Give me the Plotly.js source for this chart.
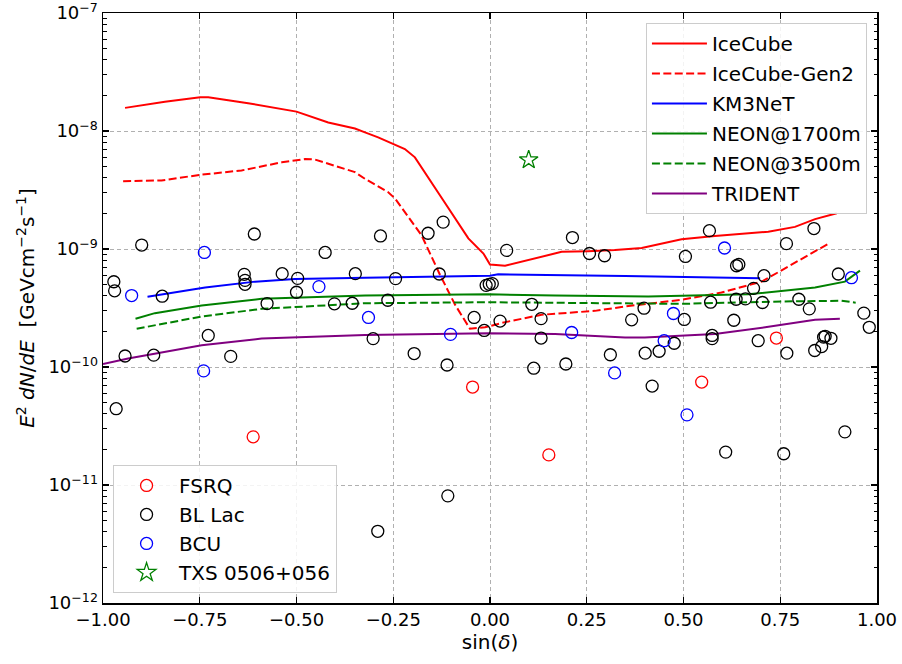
<!DOCTYPE html>
<html>
<head>
<meta charset="utf-8">
<script src="https://cdn.plot.ly/plotly-3.0.1.min.js"></script>
<style>html,body{margin:0;padding:0;background:#fff;}#plot{width:902px;height:664px;}</style>
</head>
<body>
<div id="plot"></div>
<script>
// ---- Sensitivity curves ----
const icecubeX = [-0.943,-0.840,-0.749,-0.728,-0.625,-0.500,-0.418,-0.349,-0.323,-0.289,-0.220,-0.194,-0.129,-0.112,-0.056,-0.017,0.000,0.039,0.185,0.254,0.323,0.392,0.495,0.581,0.719,0.788,0.840,0.896];
const icecubeY = [1.57e-8,1.77e-8,1.93e-8,1.93e-8,1.72e-8,1.46e-8,1.18e-8,1.05e-8,9.73e-9,8.83e-9,7.04e-9,5.98e-9,2.84e-9,2.34e-9,1.23e-9,9.16e-10,7.40e-10,7.21e-10,9.46e-10,9.58e-10,9.80e-10,1.02e-9,1.21e-9,1.29e-9,1.40e-9,1.54e-9,1.79e-9,2.01e-9];

const gen2X = [-0.948,-0.849,-0.749,-0.642,-0.538,-0.478,-0.452,-0.349,-0.323,-0.263,-0.245,-0.177,-0.129,-0.099,-0.090,-0.052,-0.013,0.039,0.133,0.271,0.349,0.495,0.598,0.702,0.771,0.879];
const gen2Y = [3.76e-9,3.81e-9,4.25e-9,4.63e-9,5.43e-9,5.79e-9,5.73e-9,4.48e-9,3.93e-9,3.03e-9,2.67e-9,1.31e-9,6.02e-10,3.83e-10,3.36e-10,2.11e-10,2.17e-10,2.40e-10,2.77e-10,2.99e-10,3.26e-10,3.71e-10,4.28e-10,5.29e-10,7.08e-10,1.13e-9];

const km3X = [-0.885,-0.736,-0.607,-0.504,-0.323,0.000,0.021,0.168,0.349,0.698];
const km3Y = [3.93e-10,4.71e-10,5.29e-10,5.57e-10,5.71e-10,5.94e-10,6.10e-10,6.02e-10,5.90e-10,5.64e-10];

const neon1700X = [-0.916,-0.866,-0.745,-0.590,-0.323,-0.004,0.168,0.349,0.409,0.667,0.840,0.917,0.956];
const neon1700Y = [2.56e-10,2.86e-10,3.32e-10,3.78e-10,4.03e-10,4.13e-10,4.03e-10,3.95e-10,3.95e-10,4.13e-10,4.71e-10,5.29e-10,6.55e-10];

const neon3500X = [-0.913,-0.745,-0.590,-0.323,-0.004,0.349,0.495,0.753,0.908,0.945];
const neon3500Y = [2.11e-10,2.68e-10,3.11e-10,3.47e-10,3.54e-10,3.43e-10,3.43e-10,3.59e-10,3.64e-10,3.51e-10];

const tridentX = [-1.0,-0.935,-0.745,-0.590,-0.323,-0.004,0.168,0.349,0.400,0.581,0.711,0.840,0.904];
const tridentY = [1.06e-10,1.18e-10,1.53e-10,1.74e-10,1.87e-10,1.93e-10,1.90e-10,1.78e-10,1.78e-10,1.90e-10,2.17e-10,2.51e-10,2.56e-10];

// ---- Sources ----
const fsrqX = [-0.612,-0.045,0.152,0.547,0.740];
const fsrqY = [2.56e-11,6.76e-11,1.80e-11,7.45e-11,1.76e-10];

const bcuX = [-0.926,-0.738,-0.740,-0.442,-0.314,-0.102,0.211,0.322,0.450,0.474,0.509,0.606,0.934];
const bcuY = [4.03e-10,9.35e-10,9.27e-11,4.80e-10,2.63e-10,1.89e-10,1.96e-10,8.91e-11,1.67e-10,2.84e-10,3.93e-11,1.02e-9,5.71e-10];

const bllacX = [-0.972,-0.970,-0.966,-0.943,-0.900,-0.869,-0.847,-0.728,-0.670,-0.635,-0.633,-0.633,-0.609,-0.576,-0.537,-0.497,-0.500,-0.426,-0.402,-0.356,-0.348,-0.302,-0.290,-0.283,-0.264,-0.244,-0.196,-0.160,-0.131,-0.121,-0.111,-0.109,-0.041,-0.015,-0.010,-0.002,0.006,0.026,0.043,0.108,0.113,0.132,0.132,0.196,0.213,0.257,0.296,0.311,0.366,0.398,0.401,0.419,0.437,0.476,0.502,0.505,0.567,0.570,0.574,0.574,0.609,0.630,0.636,0.637,0.643,0.660,0.681,0.693,0.704,0.708,0.759,0.766,0.767,0.798,0.825,0.837,0.839,0.857,0.862,0.866,0.881,0.900,0.917,0.966,0.980];
const bllacY = [5.28e-10,4.42e-10,4.43e-11,1.24e-10,1.08e-9,1.26e-10,3.98e-10,1.85e-10,1.23e-10,6.10e-10,5.42e-10,5.02e-10,1.34e-9,3.45e-10,6.18e-10,5.64e-10,4.30e-10,9.35e-10,3.43e-10,3.47e-10,6.18e-10,1.74e-10,4.05e-12,1.29e-9,3.68e-10,5.61e-10,1.30e-10,1.36e-9,6.14e-10,1.69e-9,1.04e-10,8.09e-12,2.63e-10,2.04e-10,4.92e-10,5.02e-10,5.09e-10,2.45e-10,9.73e-10,3.40e-10,9.77e-11,2.57e-10,1.76e-10,1.06e-10,1.25e-9,9.16e-10,8.77e-10,1.27e-10,2.51e-10,3.15e-10,1.31e-10,6.89e-11,1.36e-10,1.59e-10,2.53e-10,8.65e-10,1.43e-9,3.54e-10,1.85e-10,1.74e-10,1.90e-11,2.49e-10,3.75e-10,7.21e-10,7.40e-10,3.78e-10,4.64e-10,1.67e-10,3.52e-10,5.94e-10,1.84e-11,1.11e-9,1.31e-10,3.75e-10,3.11e-10,1.49e-9,1.38e-10,1.49e-10,1.79e-10,1.82e-10,1.75e-10,6.14e-10,2.82e-11,2.86e-10,2.17e-10];

const txsX = [0.100];
const txsY = [5.69e-9];

const xTickVals = [-1.0,-0.75,-0.5,-0.25,0,0.25,0.5,0.75,1.0];
const xTickText = ['−1.00','−0.75','−0.50','−0.25','0.00','0.25','0.50','0.75','1.00'];
const yTickVals = [1e-12,1e-11,1e-10,1e-9,1e-8,1e-7];
const yTickText = ['10<sup>−12</sup>','10<sup>−11</sup>','10<sup>−10</sup>','10<sup>−9</sup>','10<sup>−8</sup>','10<sup>−7</sup>'];

const FONT = 'DejaVu Sans, sans-serif';
const DASH = '8px,3.4px';

function lineTrace(x, y, name, color, dash, grp) {
  return {x: x, y: y, name: name, type: 'scatter', mode: 'lines',
    line: {color: color, width: 2, dash: dash || 'solid'},
    legend: 'legend', legendgroup: grp};
}
function markTrace(x, y, name, color, symbol, size, grp) {
  return {x: x, y: y, name: name, type: 'scatter', mode: 'markers',
    marker: {symbol: symbol, size: size, color: color, line: {color: color, width: 1.3}},
    legend: 'legend2', legendgroup: grp};
}

const traces = [
  lineTrace(icecubeX, icecubeY, 'IceCube', '#ff0000', 'solid', 'a'),
  lineTrace(gen2X, gen2Y, 'IceCube-Gen2', '#ff0000', DASH, 'b'),
  lineTrace(km3X, km3Y, 'KM3NeT', '#0000ff', 'solid', 'c'),
  lineTrace(neon1700X, neon1700Y, 'NEON@1700m', '#008000', 'solid', 'd'),
  lineTrace(neon3500X, neon3500Y, 'NEON@3500m', '#008000', DASH, 'e'),
  lineTrace(tridentX, tridentY, 'TRIDENT', '#800080', 'solid', 'f'),
  markTrace(fsrqX, fsrqY, 'FSRQ', '#ff0000', 'circle-open', 12, 'g'),
  markTrace(bllacX, bllacY, 'BL Lac', '#000000', 'circle-open', 12, 'h'),
  markTrace(bcuX, bcuY, 'BCU', '#0000ff', 'circle-open', 12, 'i'),
  markTrace(txsX, txsY, 'TXS 0506+056', '#008000', 'star-open', 14, 'j')
];

const axisCommon = {
  showline: true, linecolor: '#000', linewidth: 1.5, mirror: 'allticks',
  ticks: 'inside', ticklen: 6, tickwidth: 1.2, tickcolor: '#000',
  showgrid: true, gridcolor: '#b0b0b0', gridwidth: 1, griddash: '4px,3px',
  zeroline: false, ticklabeloverflow: 'allow',
  tickfont: {family: FONT, size: 18, color: '#000'}
};

const layout = {
  width: 902, height: 664,
  margin: {l: 103, r: 25, t: 13, b: 61},
  paper_bgcolor: '#fff', plot_bgcolor: '#fff',
  font: {family: FONT, color: '#000'},
  showlegend: true,
  xaxis: Object.assign({}, axisCommon, {
    range: [-1, 1], tickmode: 'array', tickvals: xTickVals, ticktext: xTickText,
    title: {text: 'sin(<i>δ</i>)', font: {family: FONT, size: 20, color: '#000'}, standoff: 4}
  }),
  yaxis: Object.assign({}, axisCommon, {
    type: 'log', range: [-12, -7], tickmode: 'array', tickvals: yTickVals, ticktext: yTickText,
    minor: {dtick: 'D1', ticks: 'inside', ticklen: 3.5, tickwidth: 1, tickcolor: '#000', showgrid: false},
    title: {text: '<i>E</i><sup>2</sup> <i>dN</i>/<i>dE</i>  [GeVcm<sup>−2</sup>s<sup>−1</sup>]', font: {family: FONT, size: 20, color: '#000'}, standoff: 8}
  }),
  legend: {
    x: 0.987, y: 0.983, xanchor: 'right', yanchor: 'top',
    bgcolor: 'rgba(255,255,255,0.85)', bordercolor: '#cccccc', borderwidth: 1,
    font: {family: FONT, size: 20, color: '#000'}, tracegroupgap: 1, traceorder: 'grouped', itemwidth: 55
  },
  legend2: {
    x: 0.013, y: 0.017, xanchor: 'left', yanchor: 'bottom',
    bgcolor: 'rgba(255,255,255,0.85)', bordercolor: '#cccccc', borderwidth: 1,
    font: {family: FONT, size: 20, color: '#000'}, tracegroupgap: 0, traceorder: 'grouped', itemwidth: 55
  }
};

Plotly.newPlot('plot', traces, layout, {displayModeBar: false, staticPlot: true});
</script>
</body>
</html>
